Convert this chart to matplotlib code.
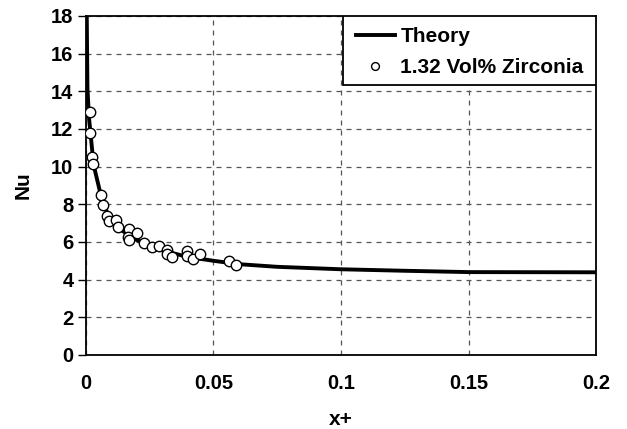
import matplotlib
matplotlib.use('Agg')
import matplotlib.pyplot as plt
from matplotlib.patches import Rectangle

plt.rcParams['font.family'] = ['Liberation Sans', 'DejaVu Sans']
plt.rcParams['font.weight'] = 'bold'

# theory curve
x_theory = [0.0003, 0.0006, 0.0012, 0.0018, 0.003, 0.006, 0.009, 0.013, 0.02,
            0.03, 0.04, 0.05, 0.06, 0.075, 0.1, 0.125, 0.15, 0.2]
nu_theory = [18.5, 14.2, 12.6, 11.8, 10.1, 8.4, 7.3, 6.7, 6.1,
             5.55, 5.2, 5.0, 4.82, 4.68, 4.55, 4.47, 4.40, 4.39]

# measured, 1.32 Vol% Zirconia
x_exp = [0.0018, 0.0018, 0.0024, 0.0029, 0.0059, 0.0068, 0.0084, 0.0092, 0.0118,
         0.0127, 0.017, 0.0166, 0.017, 0.0199, 0.0229, 0.0258, 0.0286, 0.0319,
         0.0319, 0.0337, 0.0395, 0.0397, 0.0421, 0.0447, 0.056, 0.0588]
nu_exp = [12.92, 11.77, 10.5, 10.14, 8.5, 7.97, 7.4, 7.12, 7.17,
          6.78, 6.67, 6.25, 6.1, 6.46, 5.96, 5.72, 5.79, 5.58,
          5.36, 5.22, 5.54, 5.26, 5.08, 5.36, 5.01, 4.76]

fig = plt.figure(figsize=(6.27, 4.29), dpi=100)
ax = fig.add_axes([0.137, 0.1725, 0.814, 0.7905])

ax.plot(x_theory, nu_theory, 'k-', lw=2.8, label='Theory', zorder=3)
ax.plot(x_exp, nu_exp, 'o', ms=7.5, mfc='white', mec='black', mew=1.0,
        label='1.32 Vol% Zirconia', zorder=4)

ax.set_xlim(0, 0.2)
ax.set_ylim(0, 18)
ax.set_xticks([0, 0.05, 0.1, 0.15, 0.2])
ax.set_xticklabels(['0', '0.05', '0.1', '0.15', '0.2'])
ax.set_yticks(range(0, 19, 2))
ax.grid(True, color='#555555', ls=(0, (4, 4)), lw=0.9)
ax.tick_params(axis='x', length=0, pad=14, labelsize=14.5)
ax.tick_params(axis='y', length=6, width=1, pad=3, direction='out', labelsize=14.5)
for s in ax.spines.values():
    s.set_linewidth(1.3)

ax.set_xlabel('x+', fontsize=15, fontweight='bold', labelpad=12)
ax.set_ylabel('Nu', fontsize=15, fontweight='bold', labelpad=13)

# legend box drawn by hand, legend itself frameless inside it
box = Rectangle((0.504, 0.796), 0.496, 0.204, transform=ax.transAxes,
                facecolor='white', edgecolor='black', lw=1.3, zorder=5)
ax.add_patch(box)
leg = ax.legend(loc='center', bbox_to_anchor=(0.752, 0.893), frameon=False,
                handlelength=1.9, handletextpad=0.25, labelspacing=0.6,
                borderpad=0, markerscale=0.75,
                prop={'weight': 'bold', 'size': 15})
leg.set_zorder(6)

plt.savefig('out.png', dpi=100)
